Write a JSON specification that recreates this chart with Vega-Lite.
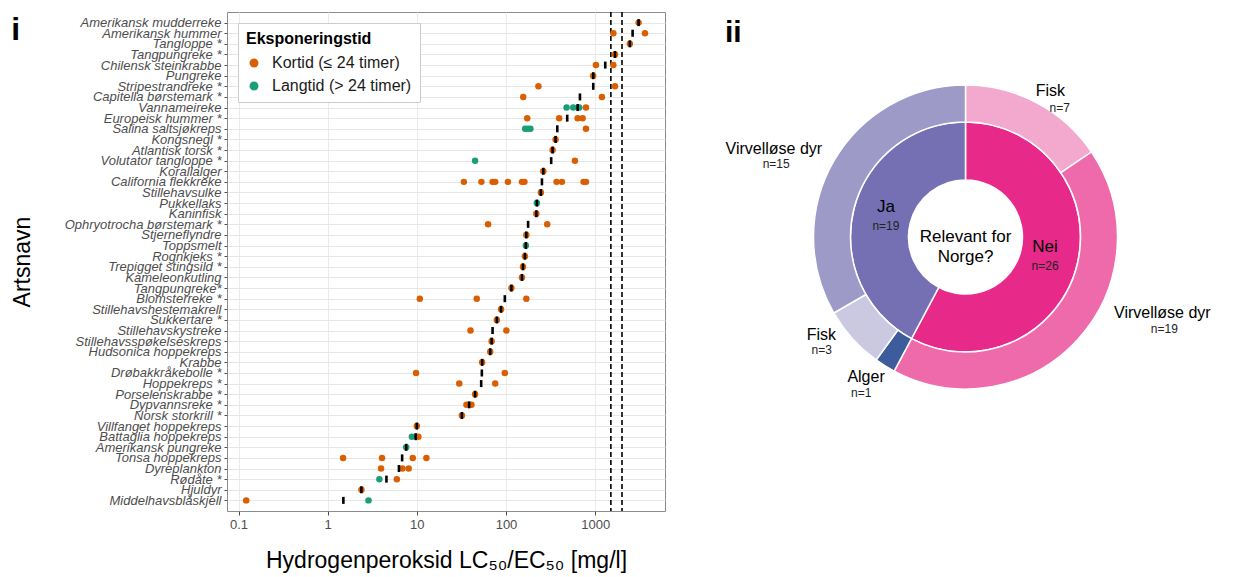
{
  "$schema": "https://vega.github.io/schema/vega-lite/v6.json",
  "padding": {"left": 10, "top": 10, "right": 5, "bottom": 5},
  "bounds": "flush",
  "spacing": 60,
  "resolve": {"scale": {"color": "independent"}, "legend": {"color": "independent"}},
  "config": {
    "font": "Liberation Sans",
    "view": {"stroke": "#8c8c8c", "strokeWidth": 1}
  },
  "datasets": {
    "punkter": [
      {"art": "Amerikansk mudderreke", "verdi": 3070, "eksponering": "Kortid (≤ 24 timer)"},
      {"art": "Amerikansk hummer", "verdi": 1600, "eksponering": "Kortid (≤ 24 timer)"},
      {"art": "Amerikansk hummer", "verdi": 3620, "eksponering": "Kortid (≤ 24 timer)"},
      {"art": "Tangloppe *", "verdi": 2450, "eksponering": "Kortid (≤ 24 timer)"},
      {"art": "Tangpungreke *", "verdi": 1670, "eksponering": "Kortid (≤ 24 timer)"},
      {"art": "Chilensk steinkrabbe", "verdi": 1020, "eksponering": "Kortid (≤ 24 timer)"},
      {"art": "Chilensk steinkrabbe", "verdi": 1600, "eksponering": "Kortid (≤ 24 timer)"},
      {"art": "Pungreke", "verdi": 950, "eksponering": "Kortid (≤ 24 timer)"},
      {"art": "Stripestrandreke *", "verdi": 231, "eksponering": "Kortid (≤ 24 timer)"},
      {"art": "Stripestrandreke *", "verdi": 1670, "eksponering": "Kortid (≤ 24 timer)"},
      {"art": "Capitella børstemark *", "verdi": 156, "eksponering": "Kortid (≤ 24 timer)"},
      {"art": "Capitella børstemark *", "verdi": 1190, "eksponering": "Kortid (≤ 24 timer)"},
      {"art": "Vannameireke", "verdi": 478, "eksponering": "Langtid (> 24 timer)"},
      {"art": "Vannameireke", "verdi": 568, "eksponering": "Langtid (> 24 timer)"},
      {"art": "Vannameireke", "verdi": 663, "eksponering": "Langtid (> 24 timer)"},
      {"art": "Vannameireke", "verdi": 789, "eksponering": "Kortid (≤ 24 timer)"},
      {"art": "Europeisk hummer *", "verdi": 173, "eksponering": "Kortid (≤ 24 timer)"},
      {"art": "Europeisk hummer *", "verdi": 395, "eksponering": "Kortid (≤ 24 timer)"},
      {"art": "Europeisk hummer *", "verdi": 636, "eksponering": "Kortid (≤ 24 timer)"},
      {"art": "Europeisk hummer *", "verdi": 723, "eksponering": "Kortid (≤ 24 timer)"},
      {"art": "Salina saltsjøkreps", "verdi": 164, "eksponering": "Langtid (> 24 timer)"},
      {"art": "Salina saltsjøkreps", "verdi": 176, "eksponering": "Langtid (> 24 timer)"},
      {"art": "Salina saltsjøkreps", "verdi": 188, "eksponering": "Langtid (> 24 timer)"},
      {"art": "Salina saltsjøkreps", "verdi": 789, "eksponering": "Kortid (≤ 24 timer)"},
      {"art": "Kongsnegl *", "verdi": 360, "eksponering": "Kortid (≤ 24 timer)"},
      {"art": "Atlantisk torsk *", "verdi": 333, "eksponering": "Kortid (≤ 24 timer)"},
      {"art": "Volutator tangloppe *", "verdi": 45, "eksponering": "Langtid (> 24 timer)"},
      {"art": "Volutator tangloppe *", "verdi": 593, "eksponering": "Kortid (≤ 24 timer)"},
      {"art": "Korallalger", "verdi": 262, "eksponering": "Kortid (≤ 24 timer)"},
      {"art": "California flekkreke", "verdi": 33.7, "eksponering": "Kortid (≤ 24 timer)"},
      {"art": "California flekkreke", "verdi": 53, "eksponering": "Kortid (≤ 24 timer)"},
      {"art": "California flekkreke", "verdi": 70.7, "eksponering": "Kortid (≤ 24 timer)"},
      {"art": "California flekkreke", "verdi": 75.7, "eksponering": "Kortid (≤ 24 timer)"},
      {"art": "California flekkreke", "verdi": 105, "eksponering": "Kortid (≤ 24 timer)"},
      {"art": "California flekkreke", "verdi": 151, "eksponering": "Kortid (≤ 24 timer)"},
      {"art": "California flekkreke", "verdi": 161, "eksponering": "Kortid (≤ 24 timer)"},
      {"art": "California flekkreke", "verdi": 369, "eksponering": "Kortid (≤ 24 timer)"},
      {"art": "California flekkreke", "verdi": 424, "eksponering": "Kortid (≤ 24 timer)"},
      {"art": "California flekkreke", "verdi": 741, "eksponering": "Kortid (≤ 24 timer)"},
      {"art": "California flekkreke", "verdi": 789, "eksponering": "Kortid (≤ 24 timer)"},
      {"art": "Stillehavsulke", "verdi": 246, "eksponering": "Kortid (≤ 24 timer)"},
      {"art": "Pukkellaks", "verdi": 222, "eksponering": "Langtid (> 24 timer)"},
      {"art": "Kaninfisk", "verdi": 219, "eksponering": "Kortid (≤ 24 timer)"},
      {"art": "Ophryotrocha børstemark *", "verdi": 63, "eksponering": "Kortid (≤ 24 timer)"},
      {"art": "Ophryotrocha børstemark *", "verdi": 290, "eksponering": "Kortid (≤ 24 timer)"},
      {"art": "Stjerneflyndre", "verdi": 169, "eksponering": "Kortid (≤ 24 timer)"},
      {"art": "Toppsmelt", "verdi": 167, "eksponering": "Langtid (> 24 timer)"},
      {"art": "Rognkjeks *", "verdi": 163, "eksponering": "Kortid (≤ 24 timer)"},
      {"art": "Trepigget stingsild *", "verdi": 155, "eksponering": "Kortid (≤ 24 timer)"},
      {"art": "Kameleonkutling", "verdi": 151, "eksponering": "Kortid (≤ 24 timer)"},
      {"art": "Tangpungreke*", "verdi": 115, "eksponering": "Kortid (≤ 24 timer)"},
      {"art": "Blomsterreke *", "verdi": 10.8, "eksponering": "Kortid (≤ 24 timer)"},
      {"art": "Blomsterreke *", "verdi": 47, "eksponering": "Kortid (≤ 24 timer)"},
      {"art": "Blomsterreke *", "verdi": 169, "eksponering": "Kortid (≤ 24 timer)"},
      {"art": "Stillehavshestemakrell", "verdi": 88, "eksponering": "Kortid (≤ 24 timer)"},
      {"art": "Sukkertare *", "verdi": 79, "eksponering": "Kortid (≤ 24 timer)"},
      {"art": "Stillehavskystreke", "verdi": 40, "eksponering": "Kortid (≤ 24 timer)"},
      {"art": "Stillehavskystreke", "verdi": 101, "eksponering": "Kortid (≤ 24 timer)"},
      {"art": "Stillehavsspøkelseskreps", "verdi": 69, "eksponering": "Kortid (≤ 24 timer)"},
      {"art": "Hudsonica hoppekreps", "verdi": 66.5, "eksponering": "Kortid (≤ 24 timer)"},
      {"art": "Krabbe", "verdi": 54, "eksponering": "Kortid (≤ 24 timer)"},
      {"art": "Drøbakkråkebolle *", "verdi": 9.8, "eksponering": "Kortid (≤ 24 timer)"},
      {"art": "Drøbakkråkebolle *", "verdi": 97, "eksponering": "Kortid (≤ 24 timer)"},
      {"art": "Hoppekreps *", "verdi": 29.9, "eksponering": "Kortid (≤ 24 timer)"},
      {"art": "Hoppekreps *", "verdi": 75.7, "eksponering": "Kortid (≤ 24 timer)"},
      {"art": "Porselenskrabbe *", "verdi": 45, "eksponering": "Kortid (≤ 24 timer)"},
      {"art": "Dypvannsreke *", "verdi": 36, "eksponering": "Kortid (≤ 24 timer)"},
      {"art": "Dypvannsreke *", "verdi": 41, "eksponering": "Kortid (≤ 24 timer)"},
      {"art": "Norsk storkrill *", "verdi": 32, "eksponering": "Kortid (≤ 24 timer)"},
      {"art": "Villfanget hoppekreps", "verdi": 10, "eksponering": "Kortid (≤ 24 timer)"},
      {"art": "Battaglia hoppekreps", "verdi": 8.8, "eksponering": "Langtid (> 24 timer)"},
      {"art": "Battaglia hoppekreps", "verdi": 10.4, "eksponering": "Kortid (≤ 24 timer)"},
      {"art": "Amerikansk pungreke", "verdi": 7.6, "eksponering": "Langtid (> 24 timer)"},
      {"art": "Tonsa hoppekreps", "verdi": 1.49, "eksponering": "Kortid (≤ 24 timer)"},
      {"art": "Tonsa hoppekreps", "verdi": 4.07, "eksponering": "Kortid (≤ 24 timer)"},
      {"art": "Tonsa hoppekreps", "verdi": 9.0, "eksponering": "Kortid (≤ 24 timer)"},
      {"art": "Tonsa hoppekreps", "verdi": 12.8, "eksponering": "Kortid (≤ 24 timer)"},
      {"art": "Dyreplankton", "verdi": 3.97, "eksponering": "Kortid (≤ 24 timer)"},
      {"art": "Dyreplankton", "verdi": 6.9, "eksponering": "Kortid (≤ 24 timer)"},
      {"art": "Dyreplankton", "verdi": 8.1, "eksponering": "Kortid (≤ 24 timer)"},
      {"art": "Rødåte *", "verdi": 3.8, "eksponering": "Langtid (> 24 timer)"},
      {"art": "Rødåte *", "verdi": 5.97, "eksponering": "Kortid (≤ 24 timer)"},
      {"art": "Hjuldyr", "verdi": 2.39, "eksponering": "Kortid (≤ 24 timer)"},
      {"art": "Middelhavsblåskjell", "verdi": 0.122, "eksponering": "Kortid (≤ 24 timer)"},
      {"art": "Middelhavsblåskjell", "verdi": 2.87, "eksponering": "Langtid (> 24 timer)"}
    ],
    "snitt": [
      {"art": "Amerikansk mudderreke", "verdi": 3070},
      {"art": "Amerikansk hummer", "verdi": 2630},
      {"art": "Tangloppe *", "verdi": 2450},
      {"art": "Tangpungreke *", "verdi": 1670},
      {"art": "Chilensk steinkrabbe", "verdi": 1297},
      {"art": "Pungreke", "verdi": 952},
      {"art": "Stripestrandreke *", "verdi": 952},
      {"art": "Capitella børstemark *", "verdi": 675},
      {"art": "Vannameireke", "verdi": 636},
      {"art": "Europeisk hummer *", "verdi": 486},
      {"art": "Salina saltsjøkreps", "verdi": 376},
      {"art": "Kongsnegl *", "verdi": 360},
      {"art": "Atlantisk torsk *", "verdi": 333},
      {"art": "Volutator tangloppe *", "verdi": 321},
      {"art": "Korallalger", "verdi": 262},
      {"art": "California flekkreke", "verdi": 253},
      {"art": "Stillehavsulke", "verdi": 246},
      {"art": "Pukkellaks", "verdi": 222},
      {"art": "Kaninfisk", "verdi": 219},
      {"art": "Ophryotrocha børstemark *", "verdi": 177},
      {"art": "Stjerneflyndre", "verdi": 169},
      {"art": "Toppsmelt", "verdi": 167},
      {"art": "Rognkjeks *", "verdi": 163},
      {"art": "Trepigget stingsild *", "verdi": 155},
      {"art": "Kameleonkutling", "verdi": 151},
      {"art": "Tangpungreke*", "verdi": 115},
      {"art": "Blomsterreke *", "verdi": 97},
      {"art": "Stillehavshestemakrell", "verdi": 88},
      {"art": "Sukkertare *", "verdi": 79},
      {"art": "Stillehavskystreke", "verdi": 70.7},
      {"art": "Stillehavsspøkelseskreps", "verdi": 69},
      {"art": "Hudsonica hoppekreps", "verdi": 66.5},
      {"art": "Krabbe", "verdi": 54},
      {"art": "Drøbakkråkebolle *", "verdi": 53.6},
      {"art": "Hoppekreps *", "verdi": 52.7},
      {"art": "Porselenskrabbe *", "verdi": 45},
      {"art": "Dypvannsreke *", "verdi": 38.6},
      {"art": "Norsk storkrill *", "verdi": 32},
      {"art": "Villfanget hoppekreps", "verdi": 10},
      {"art": "Battaglia hoppekreps", "verdi": 9.7},
      {"art": "Amerikansk pungreke", "verdi": 7.6},
      {"art": "Tonsa hoppekreps", "verdi": 6.84},
      {"art": "Dyreplankton", "verdi": 6.3},
      {"art": "Rødåte *", "verdi": 4.56},
      {"art": "Hjuldyr", "verdi": 2.39},
      {"art": "Middelhavsblåskjell", "verdi": 1.5}
    ],
    "grenser": [{"verdi": 1500}, {"verdi": 2000}],
    "indre": [
      {"relevant": "Nei", "kategori": "Nei", "n": 26, "etikett": "n=26"},
      {"relevant": "Ja", "kategori": "Ja", "n": 19, "etikett": "n=19"}
    ],
    "ytre": [
      {"rekkefolge": 1, "relevant": "Nei", "gruppe": "Fisk", "kategori": "Nei – Fisk", "n": 7, "etikett": "n=7"},
      {"rekkefolge": 2, "relevant": "Nei", "gruppe": "Virvelløse dyr", "kategori": "Nei – Virvelløse dyr", "n": 19, "etikett": "n=19"},
      {"rekkefolge": 3, "relevant": "Ja", "gruppe": "Alger", "kategori": "Ja – Alger", "n": 1, "etikett": "n=1"},
      {"rekkefolge": 4, "relevant": "Ja", "gruppe": "Fisk", "kategori": "Ja – Fisk", "n": 3, "etikett": "n=3"},
      {"rekkefolge": 5, "relevant": "Ja", "gruppe": "Virvelløse dyr", "kategori": "Ja – Virvelløse dyr", "n": 15, "etikett": "n=15"}
    ],
    "midt": [{"tekst": "Relevant for\nNorge?"}]
  },
  "hconcat": [
    {
      "width": 438,
      "height": 499,
      "title": {"text": "i", "anchor": "start", "frame": "bounds", "fontSize": 32, "fontWeight": "bold", "baseline": "top", "offset": -36, "color": "black"},
      "layer": [
        {
          "data": {"name": "grenser"},
          "mark": {"type": "rule", "strokeDash": [5, 3], "color": "black", "strokeWidth": 1.6},
          "encoding": {
            "x": {"field": "verdi", "type": "quantitative", "scale": {"type": "log", "domain": [0.0743, 6070], "nice": false}}
          }
        },
        {
          "data": {"name": "punkter"},
          "mark": {"type": "circle", "size": 42, "opacity": 1},
          "encoding": {
            "x": {
              "field": "verdi", "type": "quantitative",
              "scale": {"type": "log", "domain": [0.0743, 6070], "nice": false},
              "axis": {
                "title": "Hydrogenperoksid LC₅₀/EC₅₀ [mg/l]",
                "values": [0.1, 1, 10, 100, 1000],
                "labelExpr": "format(datum.value, '~g')",
                "titleFontSize": 23, "titleFontWeight": "normal", "titleColor": "black", "titlePadding": 18,
                "labelFontSize": 13, "labelColor": "#4d4d4d", "labelPadding": 3,
                "tickSize": 4, "tickColor": "#4d4d4d", "domain": false,
                "grid": true, "gridColor": "#ebebeb"
              }
            },
            "y": {
              "field": "art", "type": "nominal",
              "scale": {"type": "point", "padding": 1, "domain": ["Amerikansk mudderreke", "Amerikansk hummer", "Tangloppe *", "Tangpungreke *", "Chilensk steinkrabbe", "Pungreke", "Stripestrandreke *", "Capitella børstemark *", "Vannameireke", "Europeisk hummer *", "Salina saltsjøkreps", "Kongsnegl *", "Atlantisk torsk *", "Volutator tangloppe *", "Korallalger", "California flekkreke", "Stillehavsulke", "Pukkellaks", "Kaninfisk", "Ophryotrocha børstemark *", "Stjerneflyndre", "Toppsmelt", "Rognkjeks *", "Trepigget stingsild *", "Kameleonkutling", "Tangpungreke*", "Blomsterreke *", "Stillehavshestemakrell", "Sukkertare *", "Stillehavskystreke", "Stillehavsspøkelseskreps", "Hudsonica hoppekreps", "Krabbe", "Drøbakkråkebolle *", "Hoppekreps *", "Porselenskrabbe *", "Dypvannsreke *", "Norsk storkrill *", "Villfanget hoppekreps", "Battaglia hoppekreps", "Amerikansk pungreke", "Tonsa hoppekreps", "Dyreplankton", "Rødåte *", "Hjuldyr", "Middelhavsblåskjell"]},
              "axis": {
                "title": "Artsnavn",
                "titleFontSize": 23, "titleFontWeight": "normal", "titleColor": "black", "titlePadding": 30,
                "labelFontSize": 13, "labelFontStyle": "italic", "labelColor": "#4d4d4d", "labelPadding": 3,
                "tickSize": 3, "tickColor": "#4d4d4d", "domain": false,
                "grid": true, "gridColor": "#e6e6e6"
              }
            },
            "color": {
              "field": "eksponering", "type": "nominal",
              "scale": {"domain": ["Kortid (≤ 24 timer)", "Langtid (> 24 timer)"], "range": ["#D95F02", "#1B9E77"]},
              "legend": {
                "title": "Eksponeringstid", "orient": "top-left", "offset": 11,
                "titleFontSize": 16, "titleFontWeight": "bold", "titleColor": "black", "titlePadding": 8,
                "labelFontSize": 16, "labelColor": "#1a1a1a", "labelOffset": 10,
                "symbolType": "circle", "symbolSize": 80, "symbolStrokeWidth": 0,
                "rowPadding": 7, "padding": 8,
                "strokeColor": "#cccccc", "fillColor": "white"
              }
            }
          }
        },
        {
          "data": {"name": "snitt"},
          "mark": {"type": "tick", "size": 7, "thickness": 2.6, "color": "black", "opacity": 1},
          "encoding": {
            "x": {"field": "verdi", "type": "quantitative", "scale": {"type": "log", "domain": [0.0743, 6070], "nice": false}},
            "y": {"field": "art", "type": "nominal"}
          }
        }
      ]
    },
    {
      "width": 481,
      "height": 450,
      "view": {"stroke": null},
      "title": {"text": "ii", "anchor": "start", "frame": "group", "fontSize": 30, "fontWeight": "bold", "baseline": "top", "offset": -36, "color": "black"},
      "layer": [
        {
          "data": {"name": "indre"},
          "mark": {"type": "arc", "innerRadius": 57, "outerRadius": 115, "stroke": "white", "strokeWidth": 1.5},
          "encoding": {
            "theta": {"field": "n", "type": "quantitative", "stack": true},
            "order": {"field": "relevant", "sort": "descending"},
            "color": {"field": "kategori", "type": "nominal", "legend": null,
              "scale": {"domain": ["Nei", "Ja", "Nei – Fisk", "Nei – Virvelløse dyr", "Ja – Alger", "Ja – Fisk", "Ja – Virvelløse dyr"], "range": ["#E7298A", "#7570B3", "#F3A8CE", "#EE6AAB", "#3D5C9B", "#CBC9E2", "#9E9AC8"]}}
          }
        },
        {
          "data": {"name": "ytre"},
          "mark": {"type": "arc", "innerRadius": 115, "outerRadius": 152, "stroke": "white", "strokeWidth": 1.5},
          "encoding": {
            "theta": {"field": "n", "type": "quantitative", "stack": true},
            "order": {"field": "rekkefolge", "sort": "ascending"},
            "color": {"field": "kategori", "type": "nominal", "legend": null}
          }
        },
        {
          "data": {"name": "indre"},
          "mark": {"type": "text", "radius": 82, "dy": -10, "fontSize": 17, "color": "black"},
          "encoding": {
            "theta": {"field": "n", "type": "quantitative", "stack": true},
            "order": {"field": "relevant", "sort": "descending"},
            "text": {"field": "relevant"}
          }
        },
        {
          "data": {"name": "indre"},
          "mark": {"type": "text", "radius": 82, "dy": 9, "fontSize": 12, "color": "#222222"},
          "encoding": {
            "theta": {"field": "n", "type": "quantitative", "stack": true},
            "order": {"field": "relevant", "sort": "descending"},
            "text": {"field": "etikett"}
          }
        },
        {
          "data": {"name": "midt"},
          "mark": {"type": "text", "fontSize": 17, "lineHeight": 20, "lineBreak": "\n", "color": "black"},
          "encoding": {"text": {"field": "tekst"}}
        },
        {
          "data": {"name": "ytre"},
          "mark": {"type": "text", "radius": 169, "thetaOffset": 0.037, "fontSize": 16, "color": "black"},
          "encoding": {
            "theta": {"field": "n", "type": "quantitative", "stack": true},
            "order": {"field": "rekkefolge", "sort": "ascending"},
            "text": {"condition": {"test": "datum.rekkefolge == 1", "field": "gruppe"}, "value": ""}
          }
        },
        {
          "data": {"name": "ytre"},
          "mark": {"type": "text", "radius": 160, "thetaOffset": 0.141, "fontSize": 12, "color": "#222222"},
          "encoding": {
            "theta": {"field": "n", "type": "quantitative", "stack": true},
            "order": {"field": "rekkefolge", "sort": "ascending"},
            "text": {"condition": {"test": "datum.rekkefolge == 1", "field": "etikett"}, "value": ""}
          }
        },
        {
          "data": {"name": "ytre"},
          "mark": {"type": "text", "radius": 211, "thetaOffset": -0.365, "fontSize": 16, "color": "black"},
          "encoding": {
            "theta": {"field": "n", "type": "quantitative", "stack": true},
            "order": {"field": "rekkefolge", "sort": "ascending"},
            "text": {"condition": {"test": "datum.rekkefolge == 2", "field": "gruppe"}, "value": ""}
          }
        },
        {
          "data": {"name": "ytre"},
          "mark": {"type": "text", "radius": 219, "thetaOffset": -0.3, "fontSize": 12, "color": "#222222"},
          "encoding": {
            "theta": {"field": "n", "type": "quantitative", "stack": true},
            "order": {"field": "rekkefolge", "sort": "ascending"},
            "text": {"condition": {"test": "datum.rekkefolge == 2", "field": "etikett"}, "value": ""}
          }
        },
        {
          "data": {"name": "ytre"},
          "mark": {"type": "text", "radius": 172, "thetaOffset": 0.058, "fontSize": 16, "color": "black"},
          "encoding": {
            "theta": {"field": "n", "type": "quantitative", "stack": true},
            "order": {"field": "rekkefolge", "sort": "ascending"},
            "text": {"condition": {"test": "datum.rekkefolge == 3", "field": "gruppe"}, "value": ""}
          }
        },
        {
          "data": {"name": "ytre"},
          "mark": {"type": "text", "radius": 188, "thetaOffset": 0.03, "fontSize": 12, "color": "#222222"},
          "encoding": {
            "theta": {"field": "n", "type": "quantitative", "stack": true},
            "order": {"field": "rekkefolge", "sort": "ascending"},
            "text": {"condition": {"test": "datum.rekkefolge == 3", "field": "etikett"}, "value": ""}
          }
        },
        {
          "data": {"name": "ytre"},
          "mark": {"type": "text", "radius": 174, "thetaOffset": 0.138, "fontSize": 16, "color": "black"},
          "encoding": {
            "theta": {"field": "n", "type": "quantitative", "stack": true},
            "order": {"field": "rekkefolge", "sort": "ascending"},
            "text": {"condition": {"test": "datum.rekkefolge == 4", "field": "gruppe"}, "value": ""}
          }
        },
        {
          "data": {"name": "ytre"},
          "mark": {"type": "text", "radius": 183, "thetaOffset": 0.066, "fontSize": 12, "color": "#222222"},
          "encoding": {
            "theta": {"field": "n", "type": "quantitative", "stack": true},
            "order": {"field": "rekkefolge", "sort": "ascending"},
            "text": {"condition": {"test": "datum.rekkefolge == 4", "field": "etikett"}, "value": ""}
          }
        },
        {
          "data": {"name": "ytre"},
          "mark": {"type": "text", "radius": 211, "thetaOffset": -0.092, "fontSize": 16, "color": "black"},
          "encoding": {
            "theta": {"field": "n", "type": "quantitative", "stack": true},
            "order": {"field": "rekkefolge", "sort": "ascending"},
            "text": {"condition": {"test": "datum.rekkefolge == 5", "field": "gruppe"}, "value": ""}
          }
        },
        {
          "data": {"name": "ytre"},
          "mark": {"type": "text", "radius": 203, "thetaOffset": -0.154, "fontSize": 12, "color": "#222222"},
          "encoding": {
            "theta": {"field": "n", "type": "quantitative", "stack": true},
            "order": {"field": "rekkefolge", "sort": "ascending"},
            "text": {"condition": {"test": "datum.rekkefolge == 5", "field": "etikett"}, "value": ""}
          }
        }
      ]
    }
  ]
}
